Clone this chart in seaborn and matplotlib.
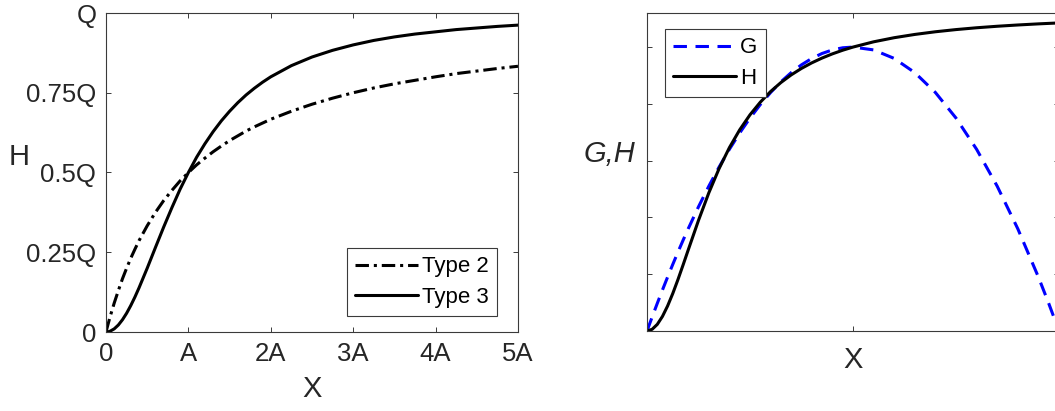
import numpy as np
import pandas as pd
import matplotlib
matplotlib.use("Agg")
import matplotlib.pyplot as plt
import seaborn as sns

# ---- Left panel: functional responses, X in units of A, H in units of Q ----
x_resp = [0, 0.025, 0.05, 0.1, 0.15, 0.2, 0.25, 0.3, 0.35, 0.4, 0.5, 0.6, 0.7, 0.8, 0.9, 1.0,
          1.1, 1.2, 1.3, 1.4, 1.5, 1.6, 1.7, 1.8, 1.9, 2.0,
          2.25, 2.5, 2.75, 3.0, 3.25, 3.5, 3.75, 4.0, 4.25, 4.5, 4.75, 5.0]
type2 = [0, 0.0244, 0.048, 0.091, 0.130, 0.167, 0.200, 0.231, 0.259, 0.286, 0.333, 0.375,
         0.412, 0.444, 0.474, 0.500,
         0.524, 0.545, 0.565, 0.583, 0.600, 0.615, 0.630, 0.643, 0.655, 0.667,
         0.692, 0.714, 0.733, 0.750, 0.765, 0.778, 0.789, 0.800, 0.810, 0.818, 0.826, 0.833]
type3 = [0, 0.0006, 0.0025, 0.0099, 0.0220, 0.0385, 0.0588, 0.0826, 0.1091, 0.138, 0.200,
         0.265, 0.329, 0.390, 0.448, 0.500,
         0.548, 0.590, 0.628, 0.662, 0.692, 0.719, 0.743, 0.764, 0.783, 0.800,
         0.835, 0.862, 0.883, 0.900, 0.914, 0.925, 0.934, 0.941, 0.948, 0.953, 0.958, 0.962]
left_xticks = [0, 1, 2, 3, 4, 5]
left_xticklabels = ["0", "A", "2A", "3A", "4A", "5A"]
left_yticks = [0, 0.25, 0.5, 0.75, 1.0]
left_yticklabels = ["0", "0.25Q", "0.5Q", "0.75Q", "Q"]

# ---- Right panel: growth G and harvest H ----
x_gh = [0, 0.025, 0.05, 0.075, 0.1, 0.125, 0.15, 0.175, 0.2, 0.25, 0.3, 0.35, 0.4,
        0.45, 0.5, 0.55, 0.6, 0.65, 0.7, 0.75, 0.8, 0.85, 0.9, 0.95, 1.0, 1.1, 1.2,
        1.3, 1.4, 1.5, 1.6, 1.7, 1.8, 1.9, 1.95, 2.0]
g_vals = [0, 0.0494, 0.0975, 0.1444, 0.19, 0.2344, 0.2775, 0.3194, 0.36, 0.4375, 0.51,
          0.5775, 0.64, 0.6975, 0.75, 0.7975, 0.84, 0.8775, 0.91, 0.9375, 0.96, 0.9775,
          0.99, 0.9975, 1.0, 0.99, 0.96, 0.91, 0.84, 0.75, 0.64, 0.51, 0.36, 0.19,
          0.0975, 0.0]
h_vals = [0, 0.0060, 0.0234, 0.0514, 0.0882, 0.1319, 0.1806, 0.2323, 0.2852, 0.3897,
          0.4864, 0.5721, 0.6459, 0.7086, 0.7615, 0.8059, 0.8434, 0.8751, 0.9020,
          0.9249, 0.9445, 0.9614, 0.9761, 0.9889, 1.0, 1.0185, 1.0330, 1.0445, 1.0539,
          1.0616, 1.0680, 1.0733, 1.0778, 1.0817, 1.0834, 1.0850]
right_xticks = [0, 1, 2]
right_yticks = [0, 0.2, 0.4, 0.6, 0.8, 1.0]

sns.set_theme(style="white")
plt.rcParams["font.family"] = ["Liberation Sans", "DejaVu Sans"]

TXT = "#262626"
AX = "#3a3a3a"
TICK_FS = 18.5
LABEL_FS = 21
LEG_FS = 16

fig = plt.figure(figsize=(10.55, 4.11), dpi=100)
W, H = 1055.0, 411.0
ax1 = fig.add_axes([106 / W, 1 - 332 / H, 412 / W, 319 / H])
ax2 = fig.add_axes([647 / W, 1 - 331 / H, 412 / W, 318 / H])

df_left = pd.DataFrame({"X": x_resp, "Type 2": type2, "Type 3": type3})
df_right = pd.DataFrame({"X": x_gh, "G": g_vals, "H": h_vals})

sns.lineplot(data=df_left, x="X", y="Type 2", ax=ax1, color="black", lw=2.2,
             linestyle=(0, (4.4, 1.6, 1.0, 1.6)), label="Type 2", sort=True)
sns.lineplot(data=df_left, x="X", y="Type 3", ax=ax1, color="black", lw=2.2,
             label="Type 3", sort=True)

sns.lineplot(data=df_right, x="X", y="G", ax=ax2, color="#0000ff", lw=2.2,
             linestyle=(0, (4.4, 2.8)), label="G", sort=True)
sns.lineplot(data=df_right, x="X", y="H", ax=ax2, color="black", lw=2.2,
             label="H", sort=True)


def style_axes(ax):
    for sp in ax.spines.values():
        sp.set_visible(True)
        sp.set_color(AX)
        sp.set_linewidth(0.8)
    ax.tick_params(axis="both", which="both", direction="in", length=3.4,
                   width=0.7, color=AX, top=True, right=True, bottom=True,
                   left=True, labelsize=TICK_FS, labelcolor=TXT, pad=7)
    ax.grid(False)
    ax.set_facecolor("white")


# Left axes
ax1.set_xlim(0, 5)
ax1.set_ylim(0, 1)
ax1.set_xticks(left_xticks)
ax1.set_xticklabels(left_xticklabels)
ax1.set_yticks(left_yticks)
ax1.set_yticklabels(left_yticklabels)
style_axes(ax1)
ax1.set_xlabel("")
ax1.set_ylabel("")
ax1.text(0.5, -0.18, "X", transform=ax1.transAxes, ha="center", va="center",
         fontsize=LABEL_FS, color=TXT)
ax1.text(-0.212, 0.55, "H", transform=ax1.transAxes, ha="center", va="center",
         fontsize=LABEL_FS, color=TXT)

# Right axes
ax2.set_xlim(0, 2)
ax2.set_ylim(0, 1.12)
ax2.set_xticks(right_xticks)
ax2.set_yticks(right_yticks)
ax2.set_xticklabels([])
ax2.set_yticklabels([])
style_axes(ax2)
ax2.set_xlabel("")
ax2.set_ylabel("")
ax2.text(0.5, -0.09, "X", transform=ax2.transAxes, ha="center", va="center",
         fontsize=LABEL_FS, color=TXT)
ax2.text(-0.091, 0.558, "G,H", transform=ax2.transAxes, ha="center", va="center",
         fontsize=LABEL_FS, color=TXT, style="italic")

leg_kw = dict(frameon=True, fancybox=False, shadow=False, framealpha=1,
              edgecolor=AX, fontsize=LEG_FS, handlelength=2.8,
              handletextpad=0.2, borderpad=0.38, labelspacing=0.42,
              borderaxespad=0.0, loc="upper left")
leg1 = ax1.legend(bbox_to_anchor=(347 / W, 1 - 248 / H),
                  bbox_transform=fig.transFigure, **leg_kw)
leg2 = ax2.legend(bbox_to_anchor=(665 / W, 1 - 29 / H),
                  bbox_transform=fig.transFigure, **leg_kw)
for leg in (leg1, leg2):
    leg.get_frame().set_linewidth(0.8)
    for t in leg.get_texts():
        t.set_color("black")

fig.savefig("out.png", dpi=100, facecolor="white")
